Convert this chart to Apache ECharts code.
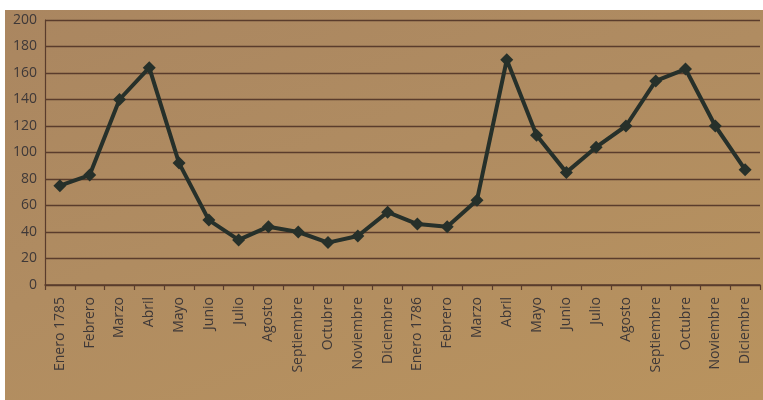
<!DOCTYPE html>
<html>
<head>
<meta charset="utf-8">
<script src="https://cdn.jsdelivr.net/npm/echarts@6/dist/echarts.min.js"></script>
<style>
  html, body { margin: 0; padding: 0; background: #ffffff; }
  #page {
    position: absolute; left: 5px; top: 10px; width: 758px; height: 390px;
    background: linear-gradient(160deg, #aa8660 0%, #b08c61 45%, #b9935e 100%);
  }
  #chart { width: 758px; height: 390px; }
</style>
</head>
<body>
<div id="page"><div id="chart"></div></div>
<script>
// Monthly counts, January 1785 to December 1786
const meses = [
  'Enero 1785', 'Febrero', 'Marzo', 'Abril', 'Mayo', 'Junio', 'Julio', 'Agosto',
  'Septiembre', 'Octubre', 'Noviembre', 'Diciembre',
  'Enero 1786', 'Febrero', 'Marzo', 'Abril', 'Mayo', 'Junio', 'Julio', 'Agosto',
  'Septiembre', 'Octubre', 'Noviembre', 'Diciembre'
];
const valores1785 = [75, 83, 140, 164, 92, 49, 34, 44, 40, 32, 37, 55];
const valores1786 = [46, 44, 64, 170, 113, 85, 104, 120, 154, 163, 120, 87];
const valores = valores1785.concat(valores1786);

const ink = '#3e3838';
const rule = '#5a3c2c';
const fontFamily = 'Open Sans, DejaVu Sans, sans-serif';

const chart = echarts.init(document.getElementById('chart'), null, { renderer: 'canvas' });
chart.setOption({
  animation: false,
  backgroundColor: 'transparent',
  grid: { left: 40, right: 3, top: 10, bottom: 115, containLabel: false },
  xAxis: {
    type: 'category',
    data: meses,
    boundaryGap: true,
    axisLine: { show: true, lineStyle: { color: rule, width: 1.5 } },
    axisTick: { show: true, length: 5, lineStyle: { color: rule, width: 1.2 } },
    axisLabel: {
      interval: 0, rotate: 90, margin: 12,
      color: ink, fontSize: 14, fontFamily: fontFamily
    }
  },
  yAxis: {
    type: 'value',
    min: 0, max: 200, interval: 20,
    axisLine: { show: true, lineStyle: { color: rule, width: 1.2 } },
    axisTick: { show: false },
    axisLabel: { margin: 8, color: ink, fontSize: 14, fontFamily: fontFamily },
    splitLine: { show: true, lineStyle: { color: rule, width: 1.4 } }
  },
  series: [{
    type: 'line',
    data: valores,
    symbol: 'diamond',
    symbolSize: 13,
    lineStyle: { color: '#26302a', width: 4 },
    itemStyle: { color: '#26302a' }
  }]
});
</script>
</body>
</html>
